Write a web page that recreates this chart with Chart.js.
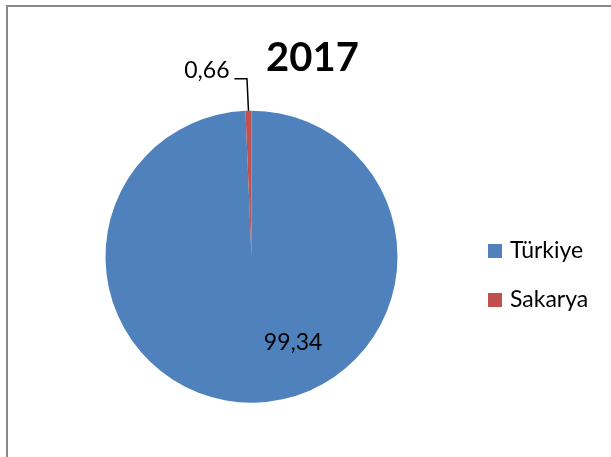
<!DOCTYPE html>
<html>
<head>
<meta charset="utf-8">
<script src="https://cdn.jsdelivr.net/npm/chart.js@4/dist/chart.umd.min.js"></script>
<style>
  html, body { margin: 0; padding: 0; background: #fff; }
  #wrap { width: 611px; height: 457px; position: relative; }
</style>
</head>
<body>
<div id="wrap"><canvas id="c" width="611" height="457"></canvas></div>
<script>
const title = "2017";
const categories = ["Türkiye", "Sakarya"];
const values = [99.34, 0.66];
const colors = ["#4F81BD", "#C0504D"];

const FONT = "Lato, 'Open Sans', sans-serif";
const fmt = v => v.toFixed(2).replace(".", ",");

const decor = {
  id: "decor",
  beforeDraw(chart) {
    const ctx = chart.ctx;
    ctx.save();
    ctx.fillStyle = "#fff";
    ctx.fillRect(0, 0, chart.width, chart.height);
    ctx.strokeStyle = "#898989";
    ctx.lineWidth = 2;
    ctx.strokeRect(7, 6, chart.width + 50, chart.height + 50);
    ctx.restore();
  },
  afterDraw(chart) {
    const ctx = chart.ctx;
    const meta = chart.getDatasetMeta(0);
    ctx.save();
    // title
    ctx.fillStyle = "#000";
    ctx.font = "bold 40px " + FONT;
    ctx.textAlign = "center";
    ctx.textBaseline = "middle";
    ctx.fillText(title, 312.5, 58);

    // data labels
    const big = meta.data[0];
    const cx = big.x, cy = big.y, r = big.outerRadius;
    ctx.font = "23px " + FONT;
    ctx.textAlign = "center";
    ctx.textBaseline = "middle";
    ctx.fillText(fmt(values[0]), cx + 0.285 * r, cy + 0.585 * r);

    const sm = meta.data[1];
    const mid = (sm.startAngle + sm.endAngle) / 2;
    const px = cx + Math.cos(mid) * r;
    const py = cy + Math.sin(mid) * r;
    const ly = cy - r - 32;
    ctx.strokeStyle = "#000";
    ctx.lineWidth = 1.5;
    ctx.beginPath();
    ctx.moveTo(px, py);
    ctx.lineTo(px - 1.5, ly);
    ctx.lineTo(px - 14, ly);
    ctx.stroke();
    ctx.textAlign = "right";
    ctx.fillText(fmt(values[1]), px - 19, ly - 8);

    // legend
    ctx.font = "23px " + FONT;
    ctx.textAlign = "left";
    categories.forEach((name, i) => {
      const y = 251 + i * 49;
      ctx.fillStyle = colors[i];
      ctx.fillRect(488, y - 7, 14, 14);
      ctx.fillStyle = "#000";
      ctx.fillText(name, 510, y);
    });
    ctx.restore();
  }
};

new Chart(document.getElementById("c"), {
  type: "pie",
  data: {
    labels: categories,
    datasets: [{
      data: values,
      backgroundColor: colors,
      borderWidth: 0
    }]
  },
  options: {
    responsive: false,
    animation: false,
    layout: { padding: { left: 105.5, right: 213.5, top: 110.7, bottom: 54.3 } },
    plugins: {
      legend: { display: false },
      title: { display: false },
      tooltip: { enabled: false }
    }
  },
  plugins: [decor]
});
</script>
</body>
</html>
